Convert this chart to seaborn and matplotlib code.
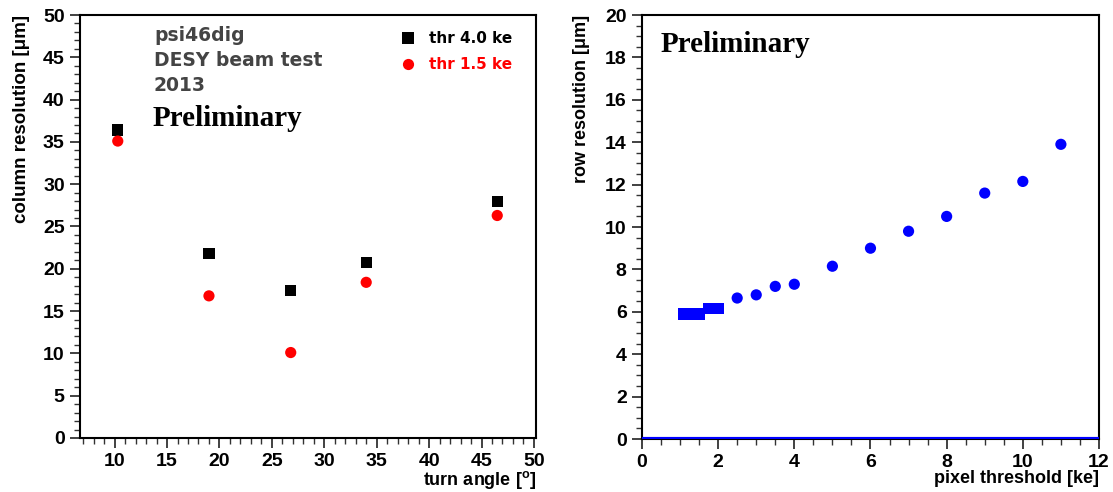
import numpy as np
import pandas as pd
import seaborn as sns
import matplotlib.pyplot as plt
from matplotlib.ticker import MultipleLocator

sns.set_style("ticks")
plt.rcParams['font.family'] = ['Liberation Sans', 'DejaVu Sans']
plt.rcParams['text.color'] = 'black'
plt.rcParams['axes.labelcolor'] = 'black'
plt.rcParams['xtick.color'] = 'black'
plt.rcParams['ytick.color'] = 'black'
plt.rcParams['mathtext.fontset'] = 'custom'
plt.rcParams['mathtext.bf'] = 'Liberation Sans:bold'

# left panel data: column resolution vs turn angle
turn_angle = [10.3, 19.0, 26.8, 34.0, 46.5]
col_res_thr40 = [36.4, 21.8, 17.4, 20.7, 28.0]
col_res_thr15 = [35.1, 16.8, 10.1, 18.4, 26.3]
thr_labels = ['thr 4.0 ke', 'thr 1.5 ke']

# right panel data: row resolution vs pixel threshold
thr_sq = [1.1, 1.2, 1.3, 1.4, 1.5, 1.75, 2.0]
row_sq = [5.9, 5.9, 5.9, 5.9, 5.9, 6.15, 6.15]
thr_circ = [2.5, 3.0, 3.5, 4.0, 5.0, 6.0, 7.0, 8.0, 9.0, 10.0, 11.0]
row_circ = [6.65, 6.8, 7.2, 7.3, 8.15, 9.0, 9.8, 10.5, 11.6, 12.15, 13.9]

left = pd.DataFrame({
    'angle': turn_angle * 2,
    'res': col_res_thr40 + col_res_thr15,
    'thr': [thr_labels[0]] * 5 + [thr_labels[1]] * 5,
})
right = pd.DataFrame({
    'thr': thr_sq + thr_circ,
    'res': row_sq + row_circ,
    'kind': ['sq'] * len(thr_sq) + ['circ'] * len(thr_circ),
})

fig = plt.figure(figsize=(11.13, 4.92), dpi=100)
ax1 = fig.add_axes([0.0719, 0.1098, 0.4097, 0.8597])
ax2 = fig.add_axes([0.5768, 0.1077, 0.4106, 0.8618])

sns.scatterplot(data=left, x='angle', y='res', hue='thr', style='thr',
                palette={thr_labels[0]: 'black', thr_labels[1]: 'red'},
                markers={thr_labels[0]: 's', thr_labels[1]: 'o'},
                s=65, linewidth=0, ax=ax1)
sns.scatterplot(data=right, x='thr', y='res', style='kind',
                markers={'sq': 's', 'circ': 'o'}, color='blue',
                s=65, linewidth=0, legend=False, ax=ax2)
ax2.axhline(0, color='blue', lw=3, zorder=5)

ax1.set_xlim(6.7, 50.2)
ax1.set_ylim(0, 50)
ax2.set_xlim(0, 12)
ax2.set_ylim(0, 20)
ax1.xaxis.set_major_locator(MultipleLocator(5))
ax1.xaxis.set_minor_locator(MultipleLocator(1))
ax1.yaxis.set_major_locator(MultipleLocator(5))
ax1.yaxis.set_minor_locator(MultipleLocator(1))
ax2.xaxis.set_major_locator(MultipleLocator(2))
ax2.xaxis.set_minor_locator(MultipleLocator(0.5))
ax2.yaxis.set_major_locator(MultipleLocator(2))
ax2.yaxis.set_minor_locator(MultipleLocator(0.5))

for ax in (ax1, ax2):
    for sp in ax.spines.values():
        sp.set_visible(True)
        sp.set_linewidth(1.5)
        sp.set_color('black')
    ax.tick_params(which='major', direction='out', length=7, width=1.3,
                   labelsize=14, color='#333333', pad=4)
    ax.tick_params(which='minor', direction='out', length=4, width=1.0,
                   color='#333333')
    for lab in ax.get_xticklabels() + ax.get_yticklabels():
        lab.set_fontweight('bold')

ax1.set_xlabel(r'turn angle [$\mathbf{^{o}}$]', loc='right', fontsize=13,
               fontweight='bold', labelpad=-1)
ax1.set_ylabel('column resolution [μm]', loc='top', fontsize=13.5,
               fontweight='bold', labelpad=9)
ax2.set_xlabel('pixel threshold [ke]', loc='right', fontsize=13,
               fontweight='bold', labelpad=-1)
ax2.set_ylabel('row resolution [μm]', loc='top', fontsize=13,
               fontweight='bold', labelpad=11)

leg = ax1.legend(loc='upper left', bbox_to_anchor=(0.655, 0.995), frameon=False,
                 prop={'family': 'DejaVu Sans', 'weight': 'bold', 'size': 11},
                 handletextpad=0.4, labelspacing=0.75, markerscale=1.0)
for t, c in zip(leg.get_texts(), ['black', 'red']):
    t.set_color(c)

ax1.text(0.162, 0.975, 'psi46dig\nDESY beam test\n2013', transform=ax1.transAxes,
         fontsize=13.5, fontweight='bold', family='DejaVu Sans', color='#444444',
         va='top', linespacing=1.4)
ax1.text(0.158, 0.755, 'Preliminary', transform=ax1.transAxes,
         fontsize=21, fontweight='bold', family='Liberation Serif', va='center')
ax2.text(0.04, 0.93, 'Preliminary', transform=ax2.transAxes,
         fontsize=21, fontweight='bold', family='Liberation Serif', va='center')

fig.savefig('out.png', dpi=100)
